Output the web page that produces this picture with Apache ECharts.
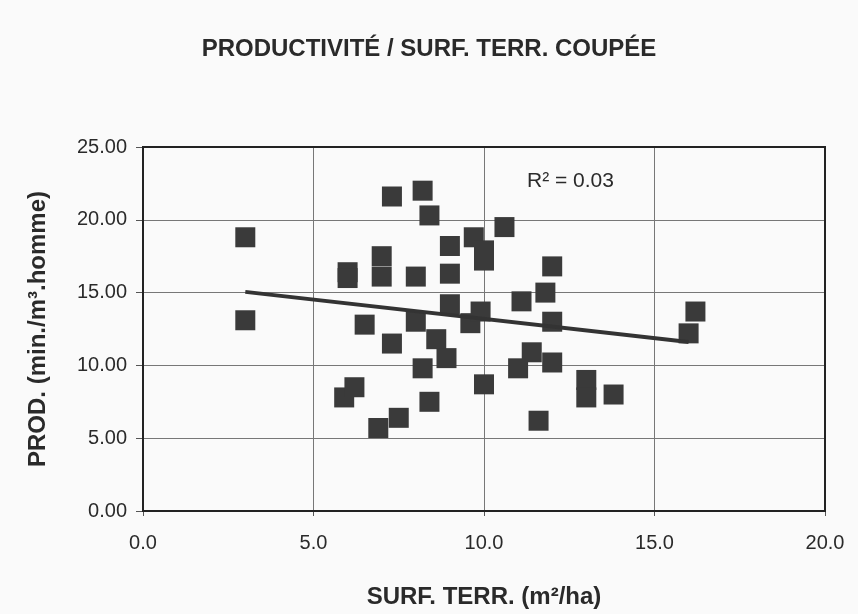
<!DOCTYPE html>
<html>
<head>
<meta charset="utf-8">
<script src="https://cdn.jsdelivr.net/npm/echarts@6/dist/echarts.min.js"></script>
<style>
    html, body {margin: 0; padding: 0; background: #fafafa;}
    #chart {width: 858px; height: 614px;}
</style>
</head>
<body>
<div id="chart"></div>
<script>
// surface terrain (m2/ha) et productivite (min./m3.homme)
var surfX = [3.0, 3.0, 6.0, 6.0, 5.9, 6.2, 6.5, 6.9, 7.0, 7.0, 7.3, 7.3, 7.5, 8.0, 8.0, 8.2, 8.2, 8.4, 8.4, 8.6, 8.9, 9.0,
    9.0, 9.0, 9.6, 9.7, 9.9, 10.0, 10.0, 10.0, 10.6, 11.0, 11.1, 11.4, 11.6, 11.8, 12.0, 12.0, 12.0, 13.0, 13.0, 13.8, 16.0, 16.2];
var prodY = [18.8, 13.1, 16.4, 16.0, 7.8, 8.5, 12.8, 5.7, 17.5, 16.1, 21.6, 11.5, 6.4, 16.1, 13.0, 22.0, 9.8, 20.3, 7.5, 11.8, 10.5, 18.2,
    16.3, 14.2, 12.9, 18.8, 13.7, 17.9, 17.2, 8.7, 19.5, 9.8, 14.4, 10.9, 6.2, 15.0, 16.8, 13.0, 10.2, 9.0, 7.8, 8.0, 12.2, 13.7];

// droite de tendance (extremites lues)
var trendX = [3.0, 16.0];
var trendY = [15.05, 11.6];

var xTicks = [0, 5, 10, 15, 20];
var yTicks = [0, 5, 10, 15, 20, 25];

var points = [];
for (var i in surfX) {
    points.push([surfX[i], prodY[i]]);
}
var trend = [];
for (var j in trendX) {
    trend.push([trendX[j], trendY[j]]);
}

var chart = echarts.init(document.getElementById('chart'));

var font = 'Liberation Sans';

var option = {
    backgroundColor: '#fafafa',
    animation: false,
    title: {
        text: 'PRODUCTIVITÉ / SURF. TERR. COUPÉE',
        left: 'center',
        top: 32,
        textStyle: {
            fontFamily: font,
            fontWeight: 'bold',
            fontSize: 24,
            color: '#2a2a2a'
        }
    },
    grid: {
        left: 143,
        right: 33,
        top: 147,
        bottom: 103
    },
    xAxis: {
        type: 'value',
        min: xTicks[0],
        max: xTicks[xTicks.length - 1],
        interval: 5,
        name: 'SURF. TERR. (m²/ha)',
        nameLocation: 'middle',
        nameGap: 74,
        nameTextStyle: {
            fontFamily: font,
            fontWeight: 'bold',
            fontSize: 24,
            color: '#2a2a2a'
        },
        axisLine: {show: true, lineStyle: {color: '#222', width: 2}},
        axisTick: {show: true, length: 5, lineStyle: {color: '#555'}},
        axisLabel: {
            margin: 22,
            fontFamily: font,
            fontSize: 20,
            color: '#2a2a2a',
            formatter: function (v) { return v.toFixed(1); }
        },
        splitLine: {show: true, lineStyle: {color: '#777', width: 1}}
    },
    yAxis: {
        type: 'value',
        min: yTicks[0],
        max: yTicks[yTicks.length - 1],
        interval: 5,
        name: 'PROD. (min./m³.homme)',
        nameLocation: 'middle',
        nameGap: 93,
        nameTextStyle: {
            fontFamily: font,
            fontWeight: 'bold',
            fontSize: 24,
            color: '#2a2a2a'
        },
        axisLine: {show: true, lineStyle: {color: '#222', width: 2}},
        axisTick: {show: true, length: 7, lineStyle: {color: '#555'}},
        axisLabel: {
            margin: 16,
            fontFamily: font,
            fontSize: 20,
            color: '#2a2a2a',
            formatter: function (v) { return v.toFixed(2); }
        },
        splitLine: {show: true, lineStyle: {color: '#777', width: 1}}
    },
    graphic: [
        {
            type: 'rect',
            shape: {x: 143, y: 147, width: 682, height: 364},
            style: {fill: 'none', stroke: '#222', lineWidth: 2},
            silent: true,
            z: 1
        },
        {
            type: 'text',
            left: 527,
            top: 171,
            style: {
                text: 'R² = 0.03',
                fontFamily: font,
                fontSize: 21,
                fill: '#2a2a2a'
            }
        }
    ],
    series: [
        {
            name: 'prod',
            type: 'scatter',
            symbol: 'rect',
            symbolSize: 20,
            itemStyle: {color: '#3a3a3a', opacity: 1},
            data: points,
            z: 3
        },
        {
            name: 'tendance',
            type: 'line',
            data: trend,
            symbol: 'none',
            lineStyle: {color: '#333', width: 4},
            z: 4
        }
    ]
};

chart.setOption(option);
</script>
</body>
</html>
